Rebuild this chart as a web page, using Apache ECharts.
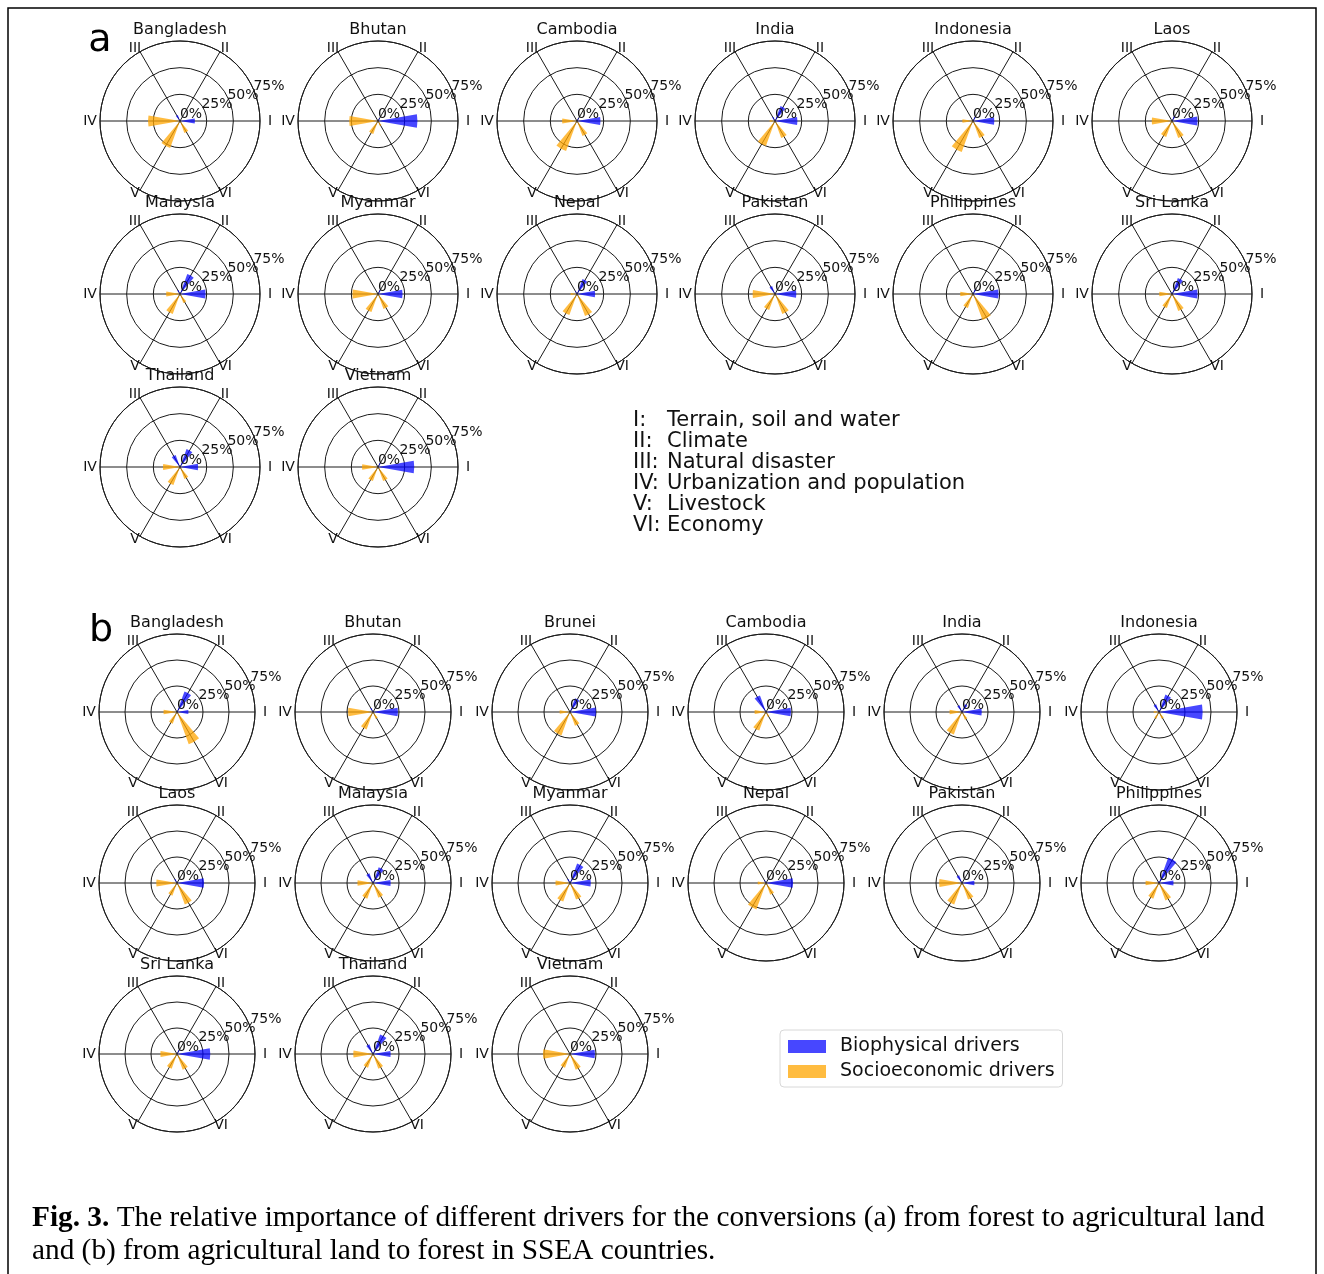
<!DOCTYPE html>
<html><head><meta charset="utf-8">
<script src="https://cdn.jsdelivr.net/npm/echarts@6/dist/echarts.min.js"></script>
<style>html,body{margin:0;padding:0;background:#fff}#c{width:1324px;height:1274px}</style>
</head><body><div id="c"></div><script>
// ---------- data ----------
const romanLabels = ['I', 'II', 'III', 'IV', 'V', 'VI'];
const driverAngles = [0, 60, 120, 180, 240, 300];
const driverNames = ['Terrain, soil and water', 'Climate', 'Natural disaster', 'Urbanization and population', 'Livestock', 'Economy'];
const radialTicks = [0, 25, 50, 75];
const seriesNames = ['Biophysical drivers', 'Socioeconomic drivers'];

const countriesA = ['Bangladesh', 'Bhutan', 'Cambodia', 'India', 'Indonesia', 'Laos',
  'Malaysia', 'Myanmar', 'Nepal', 'Pakistan', 'Philippines', 'Sri Lanka', 'Thailand', 'Vietnam'];
// biophysical drivers I, II, III (%)
const bioA = [[14, 0, 6], [37, 3, 0], [22, 3, 0], [21, 15, 4], [20, 4, 0], [24, 5, 0],
  [24, 20, 4], [23, 4, 0], [17, 15, 3], [20, 0, 8], [24, 5, 0], [24, 16, 2], [17, 18, 12], [34, 4, 0]];
// socioeconomic drivers IV, V, VI (%)
const socioA = [[30, 27, 12], [27, 13, 5], [14, 30, 15], [5, 25, 17], [10, 31, 17], [19, 16, 17],
  [13, 20, 9], [24, 18, 15], [6, 21, 22], [21, 16, 20], [12, 14, 26], [12, 14, 17], [16, 18, 12], [15, 14, 14]];

const countriesB = ['Bangladesh', 'Bhutan', 'Brunei', 'Cambodia', 'India', 'Indonesia',
  'Laos', 'Malaysia', 'Myanmar', 'Nepal', 'Pakistan', 'Philippines', 'Sri Lanka', 'Thailand', 'Vietnam'];
const bioB = [[11, 21, 0], [24, 0, 4], [25, 14, 0], [24, 0, 17], [19, 8, 7], [42, 18, 8],
  [26, 0, 4], [17, 16, 10], [20, 20, 4], [26, 0, 3], [12, 0, 8], [14, 26, 2], [32, 4, 0], [17, 20, 10], [24, 0, 0]];
const socioB = [[13, 12, 33], [24, 18, 7], [10, 24, 14], [11, 19, 5], [12, 23, 8], [5, 7, 7],
  [20, 13, 22], [15, 16, 15], [14, 19, 17], [8, 27, 12], [22, 22, 17], [13, 16, 18], [16, 15, 16], [19, 14, 15], [26, 14, 16]];

// ---------- layout / style ----------
const layoutA = { cols: [180, 378, 577, 775, 973, 1172], rows: [121, 294, 467], r: 80 };
const layoutB = { cols: [177, 373, 570, 766, 962, 1159], rows: [712, 883, 1054], r: 78 };
const BLUE = 'rgba(0,0,255,0.72)';
const ORANGE = 'rgba(255,165,0,0.75)';
const LINE = '#1a1a1a';
const FONT = 'DejaVu Sans';
const WEDGE_HALF_DEG = 10;

function renderWedge(params, api) {
  const val = api.value(0);
  const ang = api.value(1);
  if (!val) return null;
  const pt = api.coord([val, ang]);
  const cs = params.coordSys;
  const half = WEDGE_HALF_DEG * Math.PI / 180;
  const a = -pt[3];
  return {
    type: 'sector',
    shape: { cx: cs.cx, cy: cs.cy, r0: 0, r: pt[2], startAngle: a - half, endAngle: a + half, clockwise: true },
    style: { fill: api.visual('color') }
  };
}

const polar = [], angleAxis = [], radiusAxis = [], series = [], graphic = [];

function addPanel(countries, bio, socio, layout) {
  countries.forEach((name, k) => {
    const idx = polar.length;
    const cx = layout.cols[k % 6];
    const cy = layout.rows[Math.floor(k / 6)];
    const R = layout.r;
    polar.push({ center: [cx, cy], radius: R });
    angleAxis.push({
      polarIndex: idx, type: 'value', min: 0, max: 360, interval: 60, startAngle: 0, clockwise: false,
      axisLine: { lineStyle: { color: LINE, width: 1 } },
      axisTick: { show: false },
      axisLabel: { show: false },
      splitLine: { show: true, lineStyle: { color: LINE, width: 1 } }
    });
    radiusAxis.push({
      polarIndex: idx, type: 'value', min: 0, max: 75, interval: 25,
      axisLine: { show: false }, axisTick: { show: false }, axisLabel: { show: false },
      splitLine: { show: true, lineStyle: { color: LINE, width: 1 } }
    });
    series.push({
      type: 'custom', name: seriesNames[0], coordinateSystem: 'polar', polarIndex: idx,
      itemStyle: { color: BLUE }, encode: { radius: 0, angle: 1 }, z: 3,
      data: bio[k].map((v, j) => [v, driverAngles[j]]), renderItem: renderWedge
    });
    series.push({
      type: 'custom', name: seriesNames[1], coordinateSystem: 'polar', polarIndex: idx,
      itemStyle: { color: ORANGE }, encode: { radius: 0, angle: 1 }, z: 3,
      data: socio[k].map((v, j) => [v, driverAngles[j + 3]]), renderItem: renderWedge
    });
    // title
    graphic.push({
      type: 'text', x: cx, y: cy - R - 11, z: 10,
      style: { text: name, fontSize: 16, fontFamily: FONT, fill: '#111', align: 'center', verticalAlign: 'middle' }
    });
    // angular (driver) labels
    driverAngles.forEach((ang, j) => {
      const rad = ang * Math.PI / 180;
      graphic.push({
        type: 'text', x: cx + Math.cos(rad) * (R + 10), y: cy - Math.sin(rad) * (R + 4), z: 10,
        style: { text: romanLabels[j], fontSize: 14, fontFamily: FONT, fill: '#111', align: 'center', verticalAlign: 'middle' }
      });
    });
    // radial tick labels
    radialTicks.forEach(t => {
      graphic.push({
        type: 'text', x: cx + 11 + 1.04 * t, y: cy - 7 - 0.37 * t, z: 10,
        style: { text: t + '%', fontSize: 14, fontFamily: FONT, fill: '#111', align: 'center', verticalAlign: 'middle' }
      });
    });
  });
}
addPanel(countriesA, bioA, socioA, layoutA);
addPanel(countriesB, bioB, socioB, layoutB);

// panel letters
graphic.push({ type: 'text', x: 100, y: 41, z: 10, style: { text: 'a', fontSize: 38, fontFamily: FONT, fill: '#000', align: 'center', verticalAlign: 'middle' } });
graphic.push({ type: 'text', x: 101, y: 631, z: 10, style: { text: 'b', fontSize: 38, fontFamily: FONT, fill: '#000', align: 'center', verticalAlign: 'middle' } });

// driver key
driverNames.forEach((d, i) => {
  const y = 421 + i * 21;
  graphic.push({ type: 'text', x: 633, y: y, z: 10, style: { text: romanLabels[i] + ':', fontSize: 21, fontFamily: FONT, fill: '#111', verticalAlign: 'middle' } });
  graphic.push({ type: 'text', x: 667, y: y, z: 10, style: { text: d, fontSize: 21, fontFamily: FONT, fill: '#111', verticalAlign: 'middle' } });
});

// caption
graphic.push({
  type: 'text', x: 32, y: 1218, z: 10,
  style: {
    text: '{b|Fig. 3.} The relative importance of different drivers for the conversions (a) from forest to agricultural land',
    rich: { b: { fontWeight: 'bold', fontSize: 29.3, fontFamily: 'Liberation Serif', fill: '#000' } },
    fontSize: 29.3, fontFamily: 'Liberation Serif', fill: '#000', verticalAlign: 'middle'
  }
});
graphic.push({
  type: 'text', x: 32, y: 1251, z: 10,
  style: { text: 'and (b) from agricultural land to forest in SSEA countries.', fontSize: 29.3, fontFamily: 'Liberation Serif', fill: '#000', verticalAlign: 'middle' }
});
// frame
graphic.push({ type: 'rect', z: 0, shape: { x: 8, y: 8, width: 1308, height: 1300 }, style: { fill: 'none', stroke: '#000', lineWidth: 1.5 } });

const chart = echarts.init(document.getElementById('c'));
chart.setOption({
  animation: false,
  backgroundColor: '#fff',
  polar, angleAxis, radiusAxis, series, graphic,
  legend: {
    data: seriesNames, orient: 'vertical', left: 780, top: 1030,
    icon: 'rect', itemWidth: 38, itemHeight: 13, itemGap: 6,
    textStyle: { fontSize: 19, fontFamily: FONT, color: '#111', padding: [0, 0, 0, 9] },
    borderColor: '#d8d8d8', borderWidth: 1, borderRadius: 4, padding: [7, 8, 6, 8],
    selectedMode: false
  }
});
</script></body></html>
